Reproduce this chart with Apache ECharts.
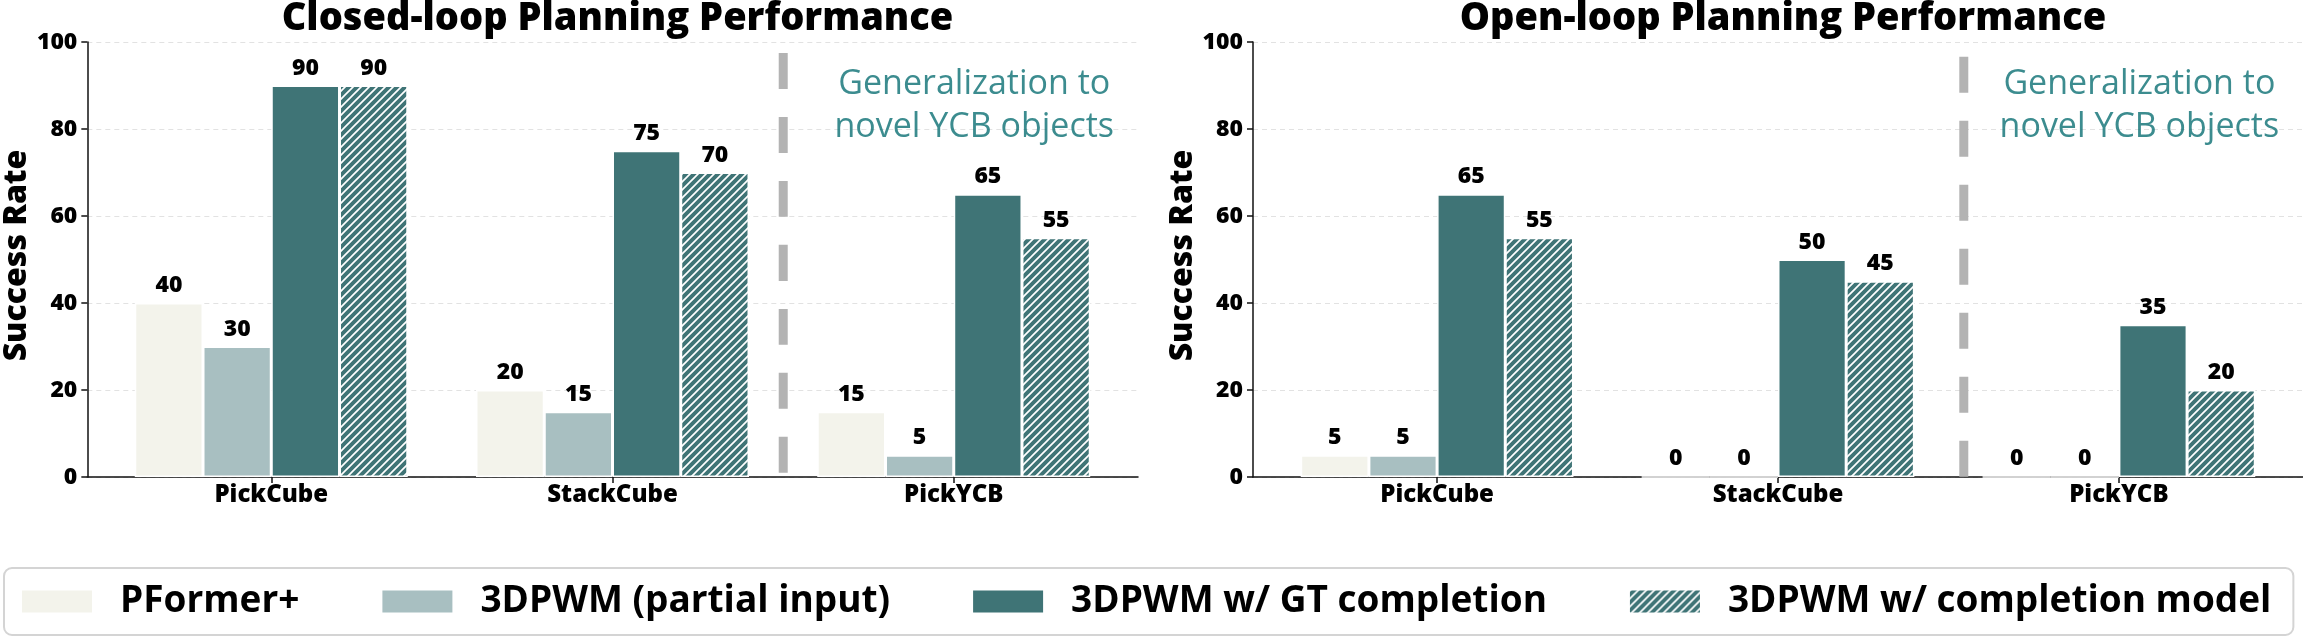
<!DOCTYPE html>
<html>
<head>
<meta charset="utf-8">
<script src="https://cdn.jsdelivr.net/npm/echarts@6/dist/echarts.min.js"></script>
<style>
  html, body { margin: 0; padding: 0; background: #fff; }
  #main { width: 2303px; height: 639px; }
</style>
</head>
<body>
<div id="main"></div>
<script>
// data
const categories = ['PickCube', 'StackCube', 'PickYCB'];
const seriesNames = ['PFormer+', '3DPWM (partial input)', '3DPWM w/ GT completion', '3DPWM w/ completion model'];

const closedPFormer = [40, 20, 15];
const closedPartial = [30, 15, 5];
const closedGT = [90, 75, 65];
const closedModel = [90, 70, 55];

const openPFormer = [5, 0, 0];
const openPartial = [5, 0, 0];
const openGT = [65, 50, 35];
const openModel = [55, 45, 20];

const yTicks = [0, 20, 40, 60, 80, 100];

const teal = '#3f7476';
const FONT = 'Open Sans';
const annotText = 'Generalization to\nnovel YCB objects';

// white "///" hatch on teal, like matplotlib hatch
function makeHatch(size) {
  const c = document.createElement('canvas');
  c.width = size; c.height = size;
  const ctx = c.getContext('2d');
  ctx.fillStyle = teal;
  ctx.fillRect(0, 0, size, size);
  ctx.strokeStyle = '#ffffff';
  ctx.lineWidth = 1.7;
  ctx.beginPath();
  ctx.moveTo(0, size); ctx.lineTo(size, 0);
  ctx.moveTo(-2, 2); ctx.lineTo(2, -2);
  ctx.moveTo(size - 2, size + 2); ctx.lineTo(size + 2, size - 2);
  ctx.stroke();
  return { image: c, repeat: 'repeat' };
}

const colors = ['#f3f3eb', '#a8bfc1', teal, makeHatch(8)];

const chart = echarts.init(document.getElementById('main'), null, { renderer: 'canvas' });

// x range like matplotlib (bars -0.4..2.4 plus 5% margins)
const XMIN = -0.54, XMAX = 2.54;
const plotTop = 42, plotHeight = 435;

const panels = [
  { title: 'Closed-loop Planning Performance', left: 87, width: 1051, data: [closedPFormer, closedPartial, closedGT, closedModel], splitX: 1.5, splitTop: 97.5 },
  { title: 'Open-loop Planning Performance', left: 1253, width: 1050, data: [openPFormer, openPartial, openGT, openModel], splitX: 1.545, splitTop: 96.6 }
];

const grid = [], xAxis = [], yAxis = [], series = [], title = [];
const axisColor = '#111';

panels.forEach(function (p, i) {
  const band = p.width / (XMAX - XMIN);
  const fg = 2 * i, ig = 2 * i + 1;
  grid.push({ left: p.left, top: plotTop, width: p.width, height: plotHeight });
  grid.push({ left: p.left + (-0.5 - XMIN) * band, top: plotTop, width: 3 * band, height: plotHeight });

  title.push({
    text: p.title,
    left: p.left + p.width / 2,
    top: -5,
    textAlign: 'center',
    textStyle: { fontFamily: FONT, fontWeight: 800, fontSize: 38, color: '#000' }
  });

  xAxis.push({
    type: 'value', gridIndex: fg, min: XMIN, max: XMAX,
    axisLine: { show: true, onZero: false, lineStyle: { color: axisColor, width: 1.5 } },
    axisTick: { show: false }, axisLabel: { show: false }, splitLine: { show: false }
  });
  xAxis.push({
    type: 'category', gridIndex: ig, data: categories,
    axisLine: { show: false },
    axisTick: { show: true, alignWithLabel: true, length: 6, lineStyle: { color: axisColor, width: 1.5 } },
    axisLabel: { fontFamily: FONT, fontWeight: 800, fontSize: 24, color: '#000', margin: 6 }
  });

  yAxis.push({
    type: 'value', gridIndex: fg, min: 0, max: 100, interval: 20,
    axisLine: { show: true, onZero: false, lineStyle: { color: axisColor, width: 1.5 } },
    axisTick: { show: true, length: 6, lineStyle: { color: axisColor, width: 1.5 } },
    axisLabel: { fontFamily: FONT, fontWeight: 800, fontSize: 23, color: '#000', margin: 10,
      customValues: yTicks },
    splitLine: { show: true, lineStyle: { color: '#e2e2e2', width: 1, type: [5, 4] } },
    name: 'Success Rate', nameLocation: 'middle', nameGap: 54, nameRotate: 90,
    nameTextStyle: { fontFamily: FONT, fontWeight: 800, fontSize: 32, color: '#000', padding: [0, 0, 0, 8] }
  });
  yAxis.push({ type: 'value', gridIndex: ig, min: 0, max: 100, show: false });

  p.data.forEach(function (vals, k) {
    series.push({
      type: 'bar', name: seriesNames[k],
      xAxisIndex: ig, yAxisIndex: ig,
      data: vals,
      barWidth: '20%', barGap: '0%',
      itemStyle: { color: colors[k], borderColor: '#ffffff', borderWidth: 1.5 },
      label: { show: true, position: 'top', distance: 6, fontFamily: FONT, fontWeight: 800, fontSize: 23, color: '#000' },
      z: 3
    });
  });

  // dashed separator before the novel-object task
  series.push({
    type: 'line', xAxisIndex: fg, yAxisIndex: fg, silent: true,
    data: [[p.splitX, p.splitTop], [p.splitX, 0]],
    symbol: 'none',
    lineStyle: { color: '#b3b3b3', width: 9, type: [36, 28], cap: 'butt' },
    z: 1
  });

  series.push({
    type: 'scatter', xAxisIndex: fg, yAxisIndex: fg, silent: true,
    data: [[2.06, 85.3]], symbolSize: 1,
    itemStyle: { color: 'rgba(0,0,0,0)' },
    label: { show: true, position: 'inside', formatter: annotText, color: '#0b6f73',
      fontFamily: FONT, fontWeight: 500, fontSize: 34, lineHeight: 43, align: 'center' },
    z: 4
  });
});

const option = {
  animation: false,
  backgroundColor: '#fff',
  title: title,
  grid: grid,
  xAxis: xAxis,
  yAxis: yAxis,
  legend: {
    data: seriesNames,
    left: 4, top: 568, width: 2400,
    padding: [15, 22, 15, 18],
    itemWidth: 70, itemHeight: 22, itemGap: 83,
    icon: 'rect',
    itemStyle: { borderWidth: 0 },
    borderColor: '#d4d4d4', borderWidth: 2, borderRadius: 8,
    textStyle: { fontFamily: FONT, fontWeight: 'bold', fontSize: 37, color: '#000', padding: [0, 0, 0, 23] }
  },
  series: series
};

chart.setOption(option);
</script>
</body>
</html>
